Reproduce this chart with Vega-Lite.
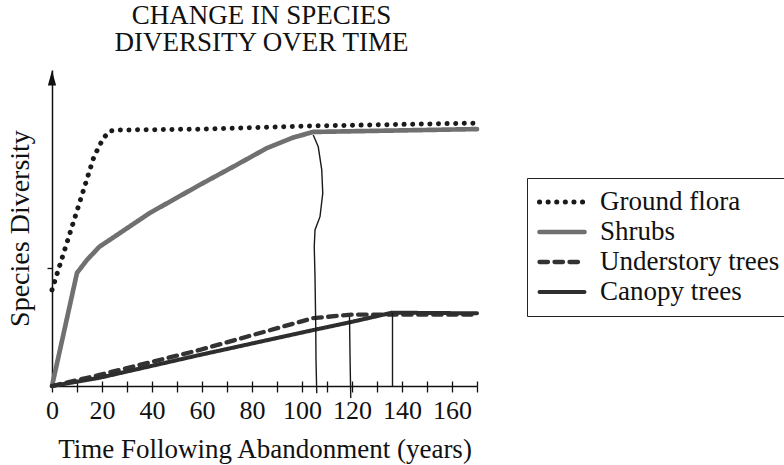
{
  "$schema": "https://vega.github.io/schema/vega-lite/v6.json",
  "width": 425,
  "height": 316,
  "autosize": {"type": "none"},
  "padding": {"left": 52, "top": 70, "right": 307, "bottom": 79},
  "background": "white",
  "title": {
    "text": ["CHANGE IN SPECIES", "DIVERSITY OVER TIME"],
    "font": "Liberation Serif",
    "fontSize": 27,
    "fontWeight": "normal",
    "color": "#111",
    "anchor": "middle",
    "frame": "group",
    "offset": 13,
    "lineHeight": 27,
    "dx": -3
  },
  "config": {
    "font": "Liberation Serif",
    "view": {"stroke": null},
    "legend": {"labelFont": "Liberation Serif", "labelFontSize": 27, "labelLimit": 400, "labelColor": "#111"},
    "axis": {"labelFont": "Liberation Serif", "titleFont": "Liberation Serif"}
  },
  "datasets": {
    "curves": [
      {"series": "Ground flora", "x": 0, "y": 30.4},
      {"series": "Ground flora", "x": 10.5, "y": 56.7},
      {"series": "Ground flora", "x": 16.8, "y": 72.6},
      {"series": "Ground flora", "x": 20.5, "y": 78.4},
      {"series": "Ground flora", "x": 23.2, "y": 80.7},
      {"series": "Ground flora", "x": 27, "y": 81},
      {"series": "Ground flora", "x": 60, "y": 81.3},
      {"series": "Ground flora", "x": 104, "y": 82.3},
      {"series": "Ground flora", "x": 170, "y": 83.2},
      {"series": "Shrubs", "x": 0, "y": 0},
      {"series": "Shrubs", "x": 10, "y": 35.8},
      {"series": "Shrubs", "x": 14, "y": 39.9},
      {"series": "Shrubs", "x": 19, "y": 44.1},
      {"series": "Shrubs", "x": 23, "y": 46.2},
      {"series": "Shrubs", "x": 39, "y": 54.7},
      {"series": "Shrubs", "x": 59, "y": 63.6},
      {"series": "Shrubs", "x": 72.5, "y": 69.4},
      {"series": "Shrubs", "x": 86, "y": 75.3},
      {"series": "Shrubs", "x": 96, "y": 78.5},
      {"series": "Shrubs", "x": 104.5, "y": 80.4},
      {"series": "Shrubs", "x": 170, "y": 81.3},
      {"series": "Understory trees", "x": 0, "y": 0},
      {"series": "Understory trees", "x": 19, "y": 3.5},
      {"series": "Understory trees", "x": 59, "y": 11.4},
      {"series": "Understory trees", "x": 104.5, "y": 21.5},
      {"series": "Understory trees", "x": 120, "y": 22.6},
      {"series": "Understory trees", "x": 170, "y": 22.6},
      {"series": "Canopy trees", "x": 0, "y": 0},
      {"series": "Canopy trees", "x": 19, "y": 2.6},
      {"series": "Canopy trees", "x": 59, "y": 9.8},
      {"series": "Canopy trees", "x": 104.5, "y": 17.7},
      {"series": "Canopy trees", "x": 120, "y": 20.3},
      {"series": "Canopy trees", "x": 136, "y": 23.2},
      {"series": "Canopy trees", "x": 170, "y": 23.0}
    ],
    "markers": [
      {"id": "m1", "x": 104.5, "y": 79.4},
      {"id": "m1", "x": 106.5, "y": 75.7},
      {"id": "m1", "x": 107.9, "y": 68.4},
      {"id": "m1", "x": 108.3, "y": 61.0},
      {"id": "m1", "x": 107.2, "y": 53.6},
      {"id": "m1", "x": 105.2, "y": 49.4},
      {"id": "m1", "x": 104.9, "y": 44.1},
      {"id": "m1", "x": 105.2, "y": 34.6},
      {"id": "m1", "x": 105.5, "y": 18.8},
      {"id": "m1", "x": 105.6, "y": 8.2},
      {"id": "m1", "x": 105.9, "y": -2.3},
      {"id": "m2", "x": 119, "y": 21.9},
      {"id": "m2", "x": 119.2, "y": 10},
      {"id": "m2", "x": 119.5, "y": -3.8},
      {"id": "m3", "x": 136.2, "y": 23.2},
      {"id": "m3", "x": 136.2, "y": 0}
    ],
    "arrow": [{"x": 0, "y": 97.5}]
  },
  "resolve": {"axis": {"x": "independent"}},
  "layer": [
    {
      "data": {"name": "curves"},
      "mark": {"type": "line", "strokeCap": "round", "strokeJoin": "round"},
      "encoding": {
        "x": {
          "field": "x", "type": "quantitative",
          "scale": {"domain": [0, 170], "nice": false, "zero": false},
          "axis": {
            "orient": "bottom",
            "values": [0, 10, 20, 30, 40, 50, 60, 70, 80, 90, 100, 110, 120, 130, 140, 150, 160, 170],
            "labelExpr": "datum.value % 20 === 0 ? datum.label : ''",
            "grid": false,
            "domainColor": "#111", "domainWidth": 1.5,
            "tickColor": "#111", "tickWidth": 1.3, "tickSize": 6,
            "labelFont": "Liberation Serif", "labelFontSize": 26, "labelColor": "#111",
            "labelPadding": 5, "labelOverlap": false, "labelFlush": false,
            "title": "Time Following Abandonment (years)",
            "titleFont": "Liberation Serif", "titleFontSize": 27, "titleFontWeight": "normal",
            "titleColor": "#111", "titlePadding": 13
          }
        },
        "y": {
          "field": "y", "type": "quantitative",
          "scale": {"domain": [0, 100], "nice": false, "zero": false},
          "axis": {
            "orient": "left",
            "values": [37.3],
            "labels": false,
            "grid": false,
            "tickSize": 5, "tickColor": "#111", "tickWidth": 1.3,
            "domainColor": "#111", "domainWidth": 1.5,
            "title": "Species Diversity",
            "titleFont": "Liberation Serif", "titleFontSize": 28, "titleFontWeight": "normal",
            "titleColor": "#111", "titlePadding": 12
          }
        },
        "color": {
          "field": "series", "type": "nominal",
          "scale": {"domain": ["Ground flora", "Shrubs", "Understory trees", "Canopy trees"],
                    "range": ["#1a1a1a", "#707070", "#333333", "#2e2e2e"]},
          "legend": {
            "orient": "none", "legendX": 475, "legendY": 108, "title": null,
            "symbolType": "stroke", "symbolSize": 2025, "clipHeight": 28,
            "labelFont": "Liberation Serif", "labelFontSize": 27, "labelColor": "#111", "labelLimit": 400,
            "labelOffset": 13, "padding": 10, "rowPadding": 2,
            "strokeColor": "#222", "fillColor": "white",
            "encode": {"symbols": {"update": {"strokeCap": {"value": "round"}}}}
          }
        },
        "strokeWidth": {
          "field": "series", "type": "nominal",
          "scale": {"domain": ["Ground flora", "Shrubs", "Understory trees", "Canopy trees"],
                    "range": [5, 4, 1.5, 5]},
          "legend": {
            "orient": "none", "legendX": 475, "legendY": 108, "title": null,
            "symbolType": "stroke", "symbolSize": 2025, "clipHeight": 28,
            "labelFont": "Liberation Serif", "labelFontSize": 27, "labelColor": "#111", "labelLimit": 400,
            "labelOffset": 13, "padding": 10, "rowPadding": 2,
            "strokeColor": "#222", "fillColor": "white",
            "encode": {"symbols": {"update": {"strokeCap": {"value": "round"}}}}
          }
        },
        "strokeDash": {
          "field": "series", "type": "nominal",
          "scale": {"domain": ["Ground flora", "Shrubs", "Understory trees", "Canopy trees"],
                    "range": [[0.1, 8.5], [1, 0], [8.5, 6.5], [1, 0]]},
          "legend": {
            "orient": "none", "legendX": 475, "legendY": 108, "title": null,
            "symbolType": "stroke", "symbolSize": 2025, "clipHeight": 28,
            "labelFont": "Liberation Serif", "labelFontSize": 27, "labelColor": "#111", "labelLimit": 400,
            "labelOffset": 13, "padding": 10, "rowPadding": 2,
            "strokeColor": "#222", "fillColor": "white",
            "encode": {"symbols": {"update": {"strokeCap": {"value": "round"}}}}
          }
        }
      }
    },
    {
      "data": {"name": "markers"},
      "mark": {"type": "line", "color": "#1a1a1a", "strokeWidth": 1.4},
      "encoding": {
        "x": {
          "field": "x", "type": "quantitative",
          "scale": {"domain": [0, 170], "nice": false, "zero": false},
          "axis": {
            "orient": "top", "offset": -316,
            "values": [0, 10, 20, 30, 40, 50, 60, 70, 80, 90, 100, 110, 120, 130, 140, 150, 160, 170],
            "labels": false, "domain": false, "grid": false,
            "tickColor": "#111", "tickWidth": 1.3, "tickSize": 5,
            "title": null
          }
        },
        "y": {
          "field": "y", "type": "quantitative",
          "scale": {"domain": [0, 100], "nice": false, "zero": false}
        },
        "detail": {"field": "id", "type": "nominal"},
        "order": {"field": "y", "type": "quantitative"}
      }
    },
    {
      "data": {"name": "arrow"},
      "mark": {"type": "point", "shape": "M0,-1L0.55,1L-0.55,1Z", "filled": true, "size": 225, "color": "#111", "opacity": 1},
      "encoding": {
        "x": {
          "field": "x", "type": "quantitative",
          "scale": {"domain": [0, 170], "nice": false, "zero": false},
          "axis": null
        },
        "y": {
          "field": "y", "type": "quantitative",
          "scale": {"domain": [0, 100], "nice": false, "zero": false}
        }
      }
    }
  ]
}
